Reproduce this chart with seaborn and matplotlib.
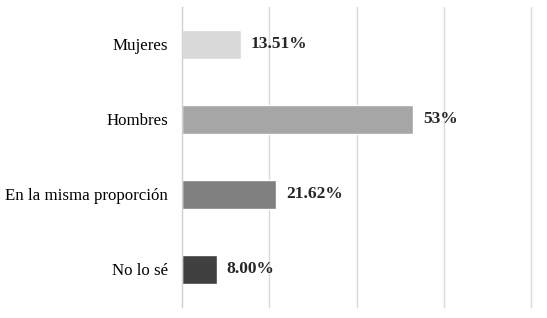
import matplotlib
matplotlib.use("Agg")
import matplotlib.pyplot as plt
import seaborn as sns
import pandas as pd

# ---------- datos ---------- #
categorias = ["Mujeres", "Hombres", "En la misma proporción", "No lo sé"]
valores = [13.51, 53.0, 21.62, 8.00]
etiquetas = ["13.51%", "53%", "21.62%", "8.00%"]
colores = ["#d9d9d9", "#a6a6a6", "#808080", "#404040"]
# --------------------------- #

df = pd.DataFrame({"categoria": categorias, "valor": valores})

sns.set_style("white")
plt.rcParams["font.family"] = ["Liberation Serif", "DejaVu Serif"]

fig = plt.figure(figsize=(5.47, 3.18), dpi=100)
ax = fig.add_axes([0.3327, 0.0346, 0.6386, 0.9434])

sns.barplot(data=df, x="valor", y="categoria", hue="categoria", palette=colores,
            orient="h", width=0.38, legend=False, ax=ax, saturation=1)

ax.set_xlim(0, 80)
ax.set_ylim(3.5, -0.5)
ax.set_xticks([20, 40, 60, 80])
ax.xaxis.grid(True, color="#d9d9d9", linewidth=1)
for gl in ax.get_xgridlines():
    gl.set_clip_on(False)
ax.set_axisbelow(True)
ax.set_xticklabels([])
ax.set_xlabel("")
ax.set_ylabel("")
ax.tick_params(axis="both", length=0)
ax.tick_params(axis="y", pad=10, labelsize=12.2, labelcolor="#000000")
for s in ["top", "right", "bottom"]:
    ax.spines[s].set_visible(False)
ax.spines["left"].set_color("#d0d0d0")
ax.spines["left"].set_linewidth(1)

for i, (v, t) in enumerate(zip(valores, etiquetas)):
    ax.annotate(t, xy=(v, i), xytext=(7, 0), textcoords="offset points",
                va="center", ha="left", fontsize=12.5, fontweight="bold")

fig.savefig("out.png", dpi=100)
